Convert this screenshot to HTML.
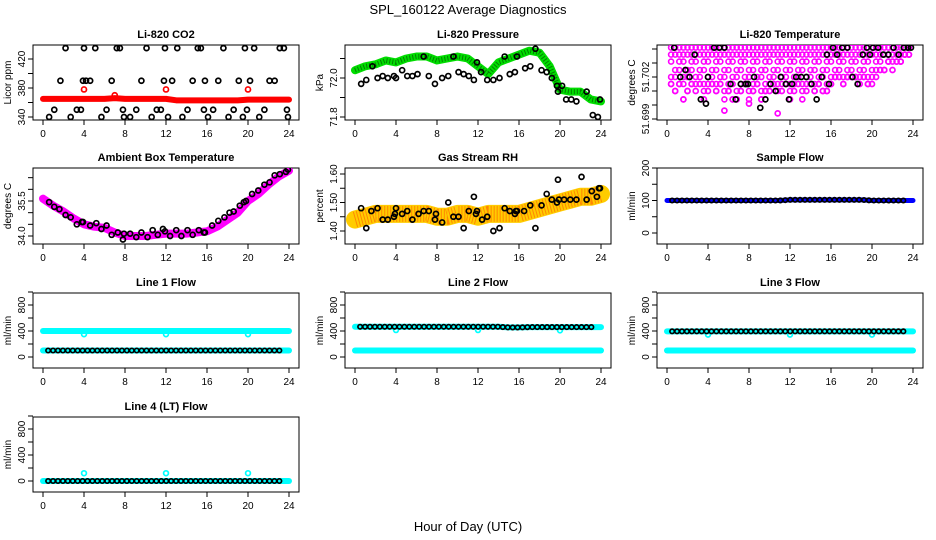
<!DOCTYPE html>
<html><head><meta charset="utf-8"><style>
body{margin:0;background:#fff}
svg{display:block;font-family:"Liberation Sans",sans-serif}
</style></head><body>
<svg id="c" width="936" height="540" viewBox="0 0 936 540"></svg>
<script>
// ---- data ----
const hours=[0,1,2,3,4,5,6,7,8,9,10,11,12,13,14,15,16,17,18,19,20,21,22,23,24];
const co2Band=[365,365,365,365,365,365,365,366,365,365,365,365,365,363,363,363,363,363,363,363,364,364,364,364,364];
const co2RedPts=[[4.0,378],[7.0,370],[12.0,378],[20.0,378]];
const co2BlackT=[0.6,1.1,1.7,2.2,2.7,3.3,3.7,3.9,4.0,4.2,4.6,5.1,5.7,6.2,6.7,7.2,7.5,7.8,7.9,8.5,9.1,9.6,10.1,10.6,11.1,11.5,11.8,11.9,12.2,12.6,13.1,13.6,14.1,14.6,15.1,15.4,15.7,15.8,16.1,16.6,17.1,17.6,18.1,18.6,19.1,19.5,19.7,19.9,20.2,20.6,21.1,21.6,22.1,22.6,23.1,23.5,23.8,23.9];
const co2BlackV=[340,350,390,435,340,350,350,390,435,390,390,435,340,350,390,435,435,350,340,340,350,390,435,340,350,350,390,435,340,390,435,340,350,390,435,435,350,390,340,350,390,435,340,350,390,340,435,350,390,435,340,350,390,390,435,435,350,340];
const presBand=[72.04,72.06,72.07,72.09,72.08,72.1,72.11,72.11,72.09,72.1,72.11,72.1,72.06,72.02,72.08,72.1,72.12,72.14,72.13,72.06,71.94,71.93,71.93,71.89,71.88];
const presT=[0.6,1.1,1.7,2.2,2.7,3.2,3.8,4.0,4.6,5.1,5.6,6.1,6.7,7.2,7.8,8.5,9.1,9.6,10.1,10.6,11.1,11.6,11.9,12.3,12.9,13.5,14.1,14.6,15.1,15.6,15.8,16.6,17.1,17.6,18.2,18.7,19.2,19.7,19.8,20.2,20.6,21.1,21.6,22.6,23.2,23.7,23.9];
const presV=[71.97,71.99,72.06,72.0,72.01,72.0,72.01,72.0,72.04,72.01,72.01,72.02,72.11,72.01,71.97,72.0,72.01,72.11,72.03,72.02,72.01,71.99,72.08,72.03,71.99,71.99,72.0,72.11,72.02,72.03,72.11,72.05,72.06,72.15,72.04,72.03,72.0,71.96,71.93,71.96,71.89,71.89,71.88,71.93,71.81,71.8,71.89];
const tempLevels=[51.7041,51.7036,51.7031,51.7025,51.702,51.7015,51.701,51.7004];
const tempMagT=[0.4,0.8,1.2,1.6,2.0,2.4,2.8,3.2,3.6,4.0,4.4,4.8,5.2,5.6,6.0,6.4,6.8,7.2,7.6,8.0,8.4,8.8,9.2,9.6,10.0,10.4,10.8,11.2,11.6,12.0,12.4,12.8,13.2,13.6,14.0,14.4,14.8,15.2,15.6,16.0,16.4,16.8,17.2,17.6,18.0,18.4,18.8,19.2,19.6,20.0,20.4,20.8,21.2,21.6,22.0,22.4,22.8,23.2,23.6];
const tempMagLo=[51.7015,51.701,51.7015,51.7004,51.701,51.7015,51.701,51.7015,51.7004,51.701,51.7015,51.701,51.7015,51.6996,51.701,51.7004,51.7004,51.701,51.7015,51.7001,51.701,51.7015,51.7004,51.701,51.701,51.7015,51.6994,51.701,51.7015,51.7004,51.701,51.7015,51.7004,51.701,51.7015,51.701,51.7015,51.701,51.701,51.7015,51.702,51.702,51.7015,51.702,51.702,51.702,51.7015,51.702,51.7015,51.7015,51.702,51.7025,51.7025,51.7031,51.7025,51.7031,51.7031,51.7036,51.7036];
const tempBlackT=[0.7,1.3,1.8,2.2,2.7,3.3,3.8,4.0,4.6,5.1,5.6,6.2,6.7,7.2,7.7,7.9,8.5,9.1,9.6,10.1,10.6,11.1,11.6,11.9,12.2,12.6,13.1,13.6,14.1,14.6,15.1,15.6,15.8,16.2,16.6,17.1,17.6,18.1,18.6,19.1,19.5,19.8,20.1,20.6,21.1,21.6,22.1,22.6,23.1,23.5,23.8];
const tempBlackV=[51.7041,51.702,51.7025,51.702,51.7036,51.7004,51.7001,51.702,51.7041,51.7041,51.7041,51.7015,51.7004,51.7015,51.7015,51.7015,51.702,51.6998,51.7004,51.7015,51.701,51.702,51.7015,51.7004,51.7015,51.702,51.702,51.702,51.7015,51.7004,51.702,51.7036,51.7015,51.7041,51.7036,51.7041,51.7041,51.702,51.7015,51.7036,51.7041,51.7036,51.7041,51.7041,51.7036,51.7036,51.7041,51.7036,51.7041,51.7041,51.7041];
const ambBand=[35.6,35.3,35.05,34.75,34.5,34.4,34.35,34.15,34.0,34.0,34.0,34.05,34.1,34.1,34.1,34.15,34.2,34.4,34.7,35.0,35.5,35.8,36.2,36.55,36.8];
const ambT=[0.6,1.1,1.6,2.2,2.7,3.3,3.8,3.9,4.6,5.2,5.7,6.2,6.7,7.3,7.8,7.9,8.5,9.1,9.6,10.2,10.7,11.2,11.7,11.9,12.4,13.0,13.5,14.1,14.6,15.2,15.7,15.8,16.5,17.1,17.7,18.2,18.6,19.2,19.6,19.8,20.4,21.0,21.6,22.1,22.6,23.1,23.7,23.9];
const ambV=[35.45,35.25,35.15,34.9,34.8,34.5,34.6,34.6,34.45,34.55,34.3,34.45,34.05,34.15,33.85,34.1,34.1,33.95,34.15,33.95,34.25,34.05,34.3,34.2,34.0,34.25,34.0,34.25,34.05,34.25,34.15,34.15,34.45,34.65,34.8,35.0,35.05,35.3,35.45,35.5,35.8,35.95,36.2,36.3,36.6,36.65,36.75,36.85];
const rhBand=[1.44,1.45,1.46,1.46,1.46,1.46,1.46,1.46,1.45,1.45,1.46,1.46,1.45,1.46,1.46,1.46,1.46,1.47,1.48,1.49,1.50,1.51,1.52,1.52,1.53];
const rhT=[0.6,1.1,1.6,2.2,2.7,3.2,3.8,3.9,4.0,4.6,5.1,5.6,6.2,6.7,7.2,7.8,7.9,8.5,9.1,9.6,10.1,10.6,11.1,11.6,11.8,11.9,12.4,12.9,13.5,14.1,14.6,15.1,15.6,15.7,15.8,16.5,17.1,17.6,18.2,18.7,19.2,19.7,19.8,19.9,20.4,21.0,21.6,22.1,22.6,23.1,23.6,23.8,23.9];
const rhV=[1.48,1.41,1.47,1.48,1.44,1.44,1.45,1.46,1.48,1.46,1.47,1.44,1.46,1.47,1.47,1.44,1.46,1.43,1.50,1.45,1.45,1.41,1.47,1.52,1.46,1.47,1.44,1.45,1.40,1.41,1.48,1.47,1.46,1.47,1.47,1.47,1.49,1.41,1.49,1.53,1.51,1.50,1.58,1.51,1.51,1.51,1.51,1.59,1.51,1.54,1.52,1.55,1.55];
const sampleFlow=[100,100,100,100,100,100,100,100,100,100,100,100,102,102,102,102,102,102,102,102,100,100,100,100,100];
const line1Hi=[400,400,400,400,400,400,400,400,400,400,400,400,400,400,400,400,400,400,400,400,400,400,400,400,400];
const line1Lo=[100,100,100,100,100,100,100,100,100,100,100,100,100,100,100,100,100,100,100,100,100,100,100,100,100];
const line2Hi=[465,465,465,465,465,465,465,465,465,465,465,465,465,465,465,455,455,460,460,460,460,460,460,460,460];
const line2Lo=[100,100,100,100,100,100,100,100,100,100,100,100,100,100,100,100,100,100,100,100,100,100,100,100,100];
const line3Hi=[395,395,395,395,395,395,395,395,395,395,395,395,395,395,395,395,395,395,395,395,395,395,395,395,395];
const line3Lo=[100,100,100,100,100,100,100,100,100,100,100,100,100,100,100,100,100,100,100,100,100,100,100,100,100];
const line4=[0,0,0,0,0,0,0,0,0,0,0,0,0,0,0,0,0,0,0,0,0,0,0,0,0];
const flowDips=[4,12,20];
const xTicks=[0,4,8,12,16,20,24];

// ---- drawing ----
const svg=document.getElementById('c');const NS='http://www.w3.org/2000/svg';
function el(tag,attrs,parent){const e=document.createElementNS(NS,tag);for(const k in attrs)e.setAttribute(k,attrs[k]);(parent||svg).appendChild(e);return e;}
const colX=[43,355,667], rowY=[[45,120],[168,244],[293,368],[417,492]];
function panel(col,row,title,ylab,a,b,ticks,labels,name){
  const x0=colX[col],top=rowY[row][0],bot=rowY[row][1];
  const g=el('g',{});
  
  
  const sx=t=>x0+(t/24)*246, sy=v=>a[1]+(v-a[0])*(b[1]-a[1])/(b[0]-a[0]);
  const clipId='clip-'+name;
  const cp=el('clipPath',{id:clipId},g);el('rect',{x:x0-10,y:top,width:266,height:bot-top},cp);
  const bx=el('rect',{x:x0-10,y:top,width:266,height:bot-top,fill:'none',stroke:'#000','stroke-width':1},g);
  
  
  const t=el('text',{x:x0+123,y:top-7,'text-anchor':'middle','font-size':11,'font-weight':'bold'},g);t.textContent=title;
  
  
  const yl=el('text',{transform:`translate(${x0-32},${(top+bot)/2}) rotate(-90)`,'text-anchor':'middle','font-size':10},g);yl.textContent=ylab;
  
  
  ticks.forEach(v=>{const y=sy(v);el('line',{x1:x0-15,x2:x0-10,y1:y,y2:y,stroke:'#000'},g);});
  labels.forEach(l=>{const y=sy(parseFloat(l));const tx=el('text',{transform:`translate(${x0-18},${y}) rotate(-90)`,'text-anchor':'middle','font-size':10},g);tx.textContent=l;
    
    });
  xTicks.forEach(v=>{const x=sx(v);el('line',{x1:x,x2:x,y1:bot,y2:bot+5,stroke:'#000'},g);
    const tx=el('text',{x:x,y:bot+17,'text-anchor':'middle','font-size':10},g);tx.textContent=v;
    
    });
  const d=el('g',{'clip-path':`url(#${clipId})`},g);
  return {sx,sy,g:d};
}
function band(p,vals,color,w,name,extra){
  const pts=hours.map((h,i)=>p.sx(h)+','+p.sy(vals[i])).join(' ');
  const pl=el('polyline',Object.assign({points:pts,fill:'none',stroke:color,'stroke-width':w,'stroke-linejoin':'round','stroke-linecap':'round'},extra||{}),p.g);
  
  
  return pl;
}
function pts(p,ts,vs,color,r,name){
  ts.forEach((t,i)=>{const c=el('circle',{cx:p.sx(t),cy:p.sy(vs[i]),r:r||2.5,fill:'none',stroke:color,'stroke-width':1.7},p.g);
    
    });
}
const half=[];for(let i=0;i<48;i++)half.push(0.5+i*0.48);
function interp(arr,t){const i=Math.min(23,Math.floor(t));return arr[i]+(arr[i+1]-arr[i])*(t-i);}

const tt=el('text',{x:468,y:14,'text-anchor':'middle','font-size':13});tt.textContent='SPL_160122  Average Diagnostics';


const xt=el('text',{x:468,y:531,'text-anchor':'middle','font-size':13});xt.textContent='Hour of Day (UTC)';



// CO2
let p=panel(0,0,'Li-820 CO2','Licor ppm',[340,117],[420,59],[340,360,380,400,420],['340','380','420'],'co2');
band(p,co2Band,'#ff0000',6,'co2-red-band');
pts(p,co2RedPts.map(d=>d[0]),co2RedPts.map(d=>d[1]),'#ff0000',2.5,'co2-red-point');
pts(p,co2BlackT,co2BlackV,'#000',2.5,'co2-black-point');
// Pressure
p=panel(1,0,'Li-820 Pressure','kPa',[71.8,117],[72.0,78],[71.8,71.9,72.0,72.1],['71.8','72.0'],'pressure');
band(p,presBand,'#00dd00',8,'pressure-green-band');
band(p,presBand,'#004400',5,'pressure-green-dots',{'stroke-dasharray':'1 2','stroke-linecap':'butt','opacity':0.6});
pts(p,presT,presV,'#000',2.5,'pressure-black-point');
// Temperature
p=panel(2,0,'Li-820 Temperature','degrees C',[51.699,119],[51.702,77],[51.699,51.7,51.701,51.702,51.703,51.704],['51.699','51.702'],'temperature');
tempLevels.forEach((l,li)=>{tempMagT.forEach((t,i)=>{if(l>=tempMagLo[i] && (li<2 || (i+li)%3!==0)){const c=el('circle',{cx:p.sx(t),cy:p.sy(l),r:2.5,fill:'none',stroke:'#ff00ff','stroke-width':1.6},p.g);
  
  }});});
pts(p,tempMagT,tempMagLo,'#ff00ff',2.5,'temperature-magenta-point');
pts(p,tempBlackT,tempBlackV,'#000',2.5,'temperature-black-point');
// Ambient
p=panel(0,1,'Ambient Box Temperature','degrees C',[34.0,236],[35.5,201],[34,34.5,35,35.5,36,36.5],['34.0','35.5'],'ambient');
band(p,ambBand,'#ff00ff',8,'ambient-magenta-band');
pts(p,ambT,ambV,'#000',2.5,'ambient-black-point');
// RH
p=panel(1,1,'Gas Stream RH','percent',[1.40,231],[1.60,174],[1.40,1.45,1.50,1.55,1.60],['1.40','1.50','1.60'],'rh');
band(p,rhBand,'#ffcc00',18,'rh-yellow-band');
band(p,rhBand,'#ff4400',16,'rh-red-dots',{'stroke-dasharray':'1 2','stroke-linecap':'butt','opacity':0.5});
pts(p,rhT,rhV,'#000',2.5,'rh-black-point');
// Sample flow
p=panel(2,1,'Sample Flow','ml/min',[0,233],[200,168],[0,50,100,150,200],['0','100','200'],'sample-flow');
band(p,sampleFlow,'#0000ff',5,'sample-flow-blue-band');
pts(p,half,half.map(t=>interp(sampleFlow,t)),'#000',2.2,'sample-flow-black-point');
// Flow lines
const ft=[0,200,400,600,800,1000],fl=['0','400','800'];
function flowPanel(col,row,title,hi,lo,blackArr,name){
  const r0=row===3?481:357;
  const q=panel(col,row,title,'ml/min',[0,r0],[400,r0-26],ft,fl,name);
  if(hi)band(q,hi,'#00ffff',6,name+'-cyan-high');
  band(q,lo,'#00ffff',6,name+'-cyan-low');
  if(hi)pts(q,flowDips,flowDips.map(t=>interp(hi,t)-50),'#00ffff',2.4,name+'-cyan-dip');
  pts(q,half,half.map(t=>interp(blackArr,t)),'#000',2.2,name+'-black-point');
  return q;
}
flowPanel(0,2,'Line 1 Flow',line1Hi,line1Lo,line1Lo,'line1-flow');
flowPanel(1,2,'Line 2 Flow',line2Hi,line2Lo,line2Hi,'line2-flow');
flowPanel(2,2,'Line 3 Flow',line3Hi,line3Lo,line3Hi,'line3-flow');
const q4=flowPanel(0,3,'Line 4 (LT) Flow',null,line4,line4,'line4-flow');
pts(q4,flowDips,flowDips.map(t=>interp(line4,t)+120),'#00ffff',2.4,'line4-flow-cyan-spike');
</script>
</body></html>
